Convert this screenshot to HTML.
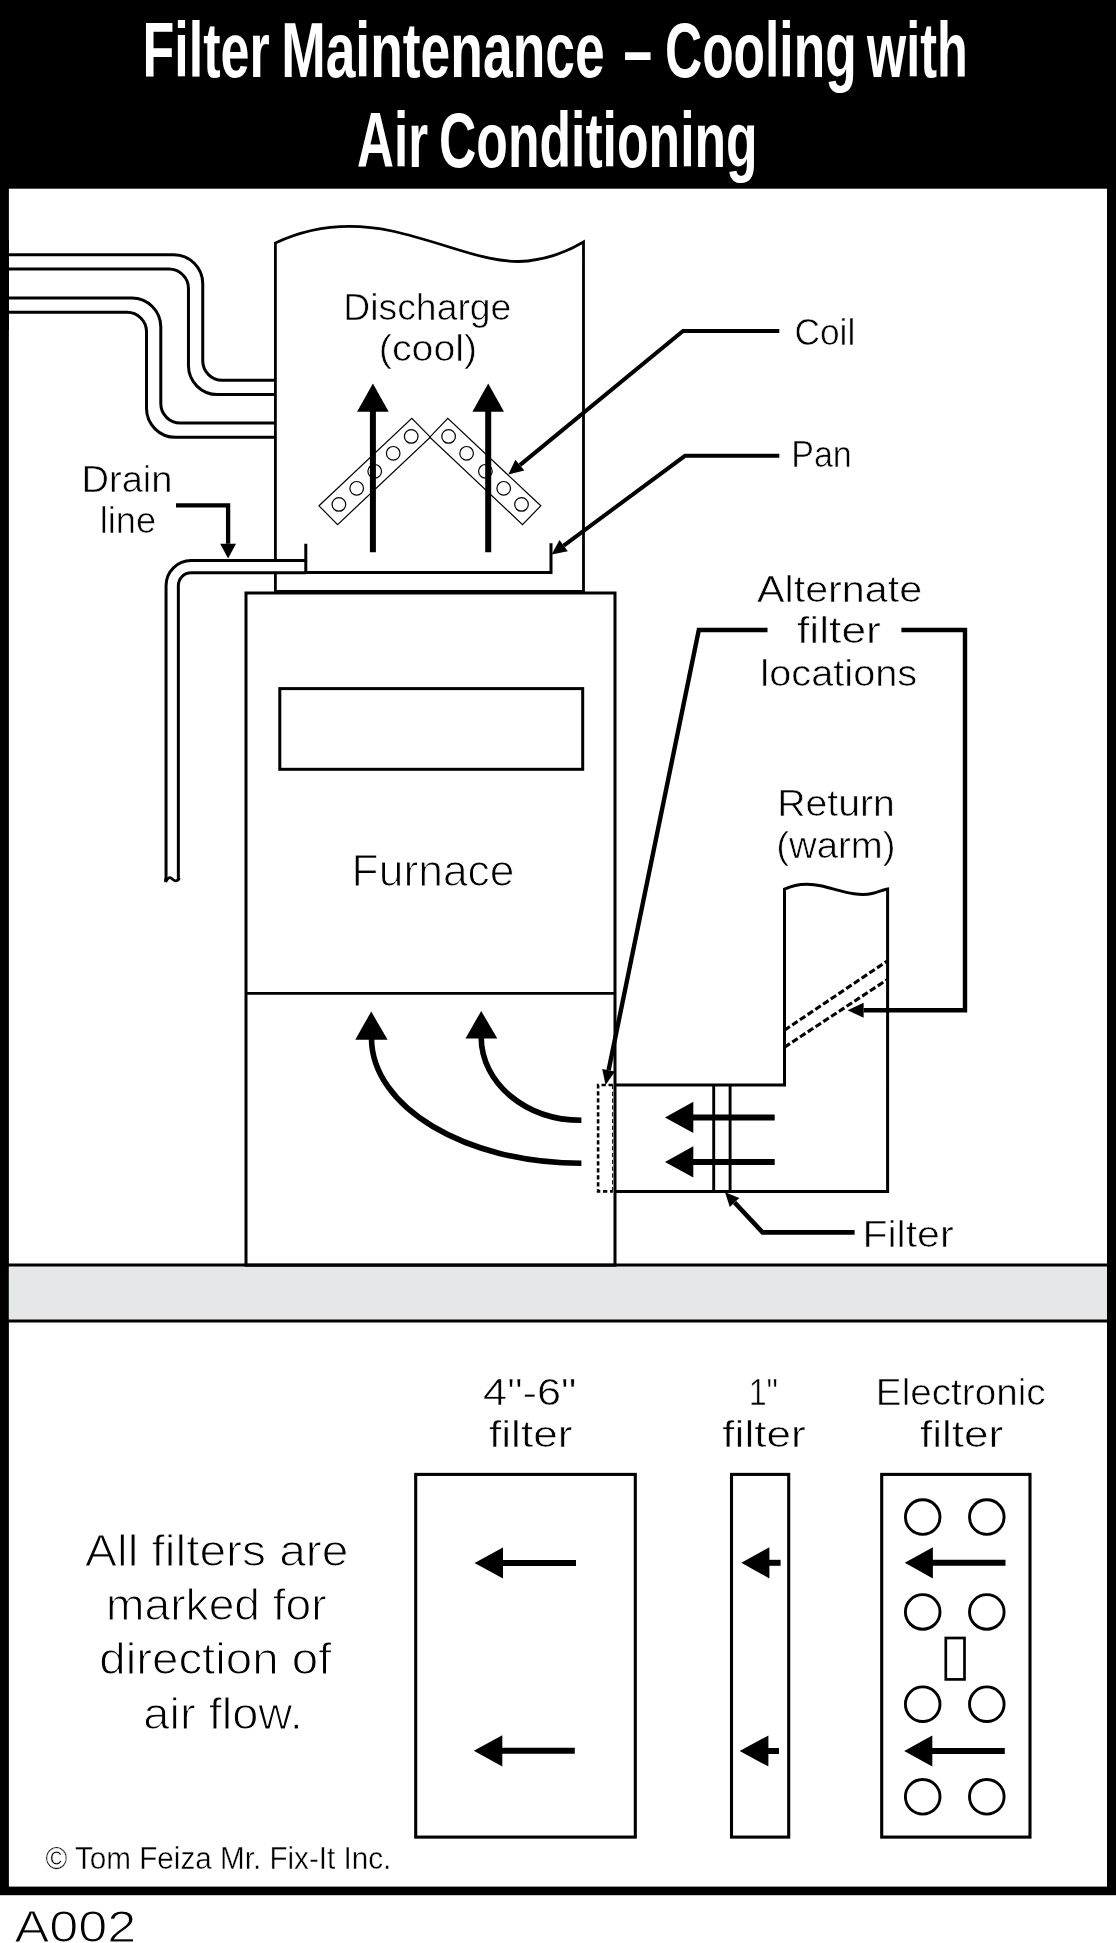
<!DOCTYPE html>
<html><head><meta charset="utf-8"><title>Filter Maintenance - Cooling with Air Conditioning</title>
<style>
html,body{margin:0;padding:0;background:#fff;}
svg{display:block;will-change:transform;font-family:"Liberation Sans",sans-serif;}
</style></head>
<body>
<svg width="1116" height="1943" viewBox="0 0 1116 1943">
<rect x="0" y="0" width="1116" height="1943" fill="#fff"/>
<rect x="0" y="0" width="1116" height="1895.2" fill="#000"/>
<rect x="8.9" y="188.7" width="1098.1" height="1697.9" fill="#fff"/>
<text x="142.49" y="76.8" font-size="77" textLength="127.16" lengthAdjust="spacingAndGlyphs" font-weight="bold" fill="#fff"  >Filter</text>
<text x="281.14" y="76.8" font-size="77" textLength="323.59" lengthAdjust="spacingAndGlyphs" font-weight="bold" fill="#fff"  >Maintenance</text>
<text x="623.41" y="76.8" font-size="77" textLength="28.57" lengthAdjust="spacingAndGlyphs" font-weight="bold" fill="#fff"  >–</text>
<text x="664.94" y="76.8" font-size="77" textLength="191.66" lengthAdjust="spacingAndGlyphs" font-weight="bold" fill="#fff"  >Cooling</text>
<text x="867.08" y="76.8" font-size="77" textLength="100.72" lengthAdjust="spacingAndGlyphs" font-weight="bold" fill="#fff"  >with</text>
<text x="357.04" y="166.8" font-size="77" textLength="71.07" lengthAdjust="spacingAndGlyphs" font-weight="bold" fill="#fff"  >Air</text>
<text x="438.97" y="166.8" font-size="77" textLength="318.68" lengthAdjust="spacingAndGlyphs" font-weight="bold" fill="#fff"  >Conditioning</text>
<rect x="8.9" y="1265" width="1098.1" height="55.9" fill="#e6e7e8"/>
<path d="M8,1265H1108M8,1320.9H1108" stroke="#000" stroke-width="3" fill="none"/>
<path d="M5,254.79999999999998 H173.75 A29,29 0 0 1 202.75,283.79999999999995 V360.8 A19.5,19.5 0 0 0 222.25,380.3 H276 M5,269.09999999999997 H168.95 A19.5,19.5 0 0 1 188.45,288.59999999999997 V365.59999999999997 A29,29 0 0 0 217.45,394.59999999999997 H276" stroke="#000" stroke-width="3" fill="none"/>
<path d="M5,298.05 H131.8 A29,29 0 0 1 160.8,327.05 V403.55 A19.5,19.5 0 0 0 180.3,423.05 H276 M5,312.34999999999997 H127.0 A19.5,19.5 0 0 1 146.5,331.84999999999997 V408.34999999999997 A29,29 0 0 0 175.5,437.34999999999997 H276" stroke="#000" stroke-width="3" fill="none"/>
<rect x="0" y="240" width="9" height="90" fill="#000"/>
<path d="M275.4,591.4 V243 C305,229 345,221 392,231 C450,244 488,265 528,261 C550,258.5 570,250 583.5,242 V591.4 Z" stroke="#000" stroke-width="2.8" fill="none"/>
<path d="M306,566.65 H191.2 A19,19 0 0 0 172.2,585.65 V879.5" stroke="#000" stroke-width="15.3" fill="none"/>
<path d="M306,566.65 H191.2 A19,19 0 0 0 172.2,585.65 V879.5 V884" stroke="#fff" stroke-width="9.3" fill="none"/>
<path d="M165.6,882 C166.6,880.3 168,877.6 169.9,877.7 C172,877.8 173.5,880.9 175.8,880.8 C177.6,880.7 178.6,879.8 179.2,878.2" stroke="#000" stroke-width="2.8" fill="none"/>
<path d="M164.2,878.5 V882.8 L167.4,878.5 Z M177.3,878 H180.25 V879 L178.6,880.6 Z" fill="#000"/>
<path d="M305.8,543.8 V572.5 H551 V543.2" stroke="#000" stroke-width="3" fill="none"/>
<rect x="246" y="593" width="369" height="672.2" stroke="#000" stroke-width="3" fill="none"/>
<path d="M246,993.4H615" stroke="#000" stroke-width="2.6"/>
<rect x="279.8" y="688.6" width="302.9" height="80.7" stroke="#000" stroke-width="3" fill="none"/>
<g stroke="#000" stroke-width="1.2" fill="none">
<path d="M319,505.8 L411.8,418.4 L430.3,437.2 L337.6,524.6 Z"/>
<path d="M540.8,505.8 L447.8,418.4 L429.8,437.2 L522.5,524.6 Z"/>
<circle cx="338.9" cy="504.4" r="6.8"/>
<circle cx="356.7" cy="488.3" r="6.8"/>
<circle cx="374.7" cy="471.3" r="6.8"/>
<circle cx="393.2" cy="453.3" r="6.8"/>
<circle cx="411.2" cy="436.4" r="6.8"/>
<circle cx="448.6" cy="436.4" r="6.8"/>
<circle cx="466.6" cy="453.3" r="6.8"/>
<circle cx="485.4" cy="471.3" r="6.8"/>
<circle cx="503.7" cy="488.3" r="6.8"/>
<circle cx="521.5" cy="504.4" r="6.8"/>
</g>
<path d="M372.9,383.4 L388.7,411.7 H357.09999999999997 Z" fill="#000"/>
<path d="M372.9,410.7 V552.3" stroke="#000" stroke-width="6" fill="none"/>
<path d="M488.2,383.4 L504.0,411.7 H472.4 Z" fill="#000"/>
<path d="M488.2,410.7 V552.3" stroke="#000" stroke-width="6" fill="none"/>
<path d="M508.3,474.6 L515.4,459.7 L524.3,470.5 Z" fill="#000"/>
<path d="M779.3,331.0 L683.0,331.0 L519.9,465.1" stroke="#000" stroke-width="4" fill="none" stroke-linejoin="miter"/>
<path d="M551.6,554.5 L559.5,540.0 L567.8,551.2 Z" fill="#000"/>
<path d="M779.3,455.8 L685.0,455.8 L563.7,545.6" stroke="#000" stroke-width="4" fill="none" stroke-linejoin="miter"/>
<path d="M228.1,558.5 L220.2,543.8 L236.0,543.8 Z" fill="#000"/>
<path d="M176.0,505.3 L228.1,505.3 L228.1,543.8" stroke="#000" stroke-width="4.3" fill="none" stroke-linejoin="miter"/>
<path d="M605.6,1085.0 L602.2,1069.0 L615.0,1071.6 Z" fill="#000"/>
<path d="M767.5,630.0 L698.8,630.0 L608.6,1070.3" stroke="#000" stroke-width="4.4" fill="none" stroke-linejoin="miter"/>
<path d="M847.6,1010.2 L863.6,1002.7 L863.6,1017.7 Z" fill="#000"/>
<path d="M901.4,630.0 L965.0,630.0 L965.0,1010.2 L863.6,1010.2" stroke="#000" stroke-width="4.4" fill="none" stroke-linejoin="miter"/>
<path d="M725.0,1192.3 L739.3,1198.1 L729.8,1207.0 Z" fill="#000"/>
<path d="M854.6,1232.4 L762.6,1232.4 L734.6,1202.5" stroke="#000" stroke-width="4.6" fill="none" stroke-linejoin="miter"/>
<path d="M615,1085 H784.5 V889.1 C795,884 807,882.5 822,886 C842,891 858,897 872,893.5 C878,892 883,890 887.6,889 V1191.4 H615" stroke="#000" stroke-width="3" fill="none"/>
<path d="M713.7,1085V1191.4M730.1,1085V1191.4" stroke="#000" stroke-width="2.9" fill="none"/>
<path d="M612.8,1085 H598.1 V1191.4 H612.8" stroke="#000" stroke-width="2.6" fill="none" stroke-dasharray="4.3 2.7"/>
<path d="M612.6,1085 V1191.4" stroke="#000" stroke-width="1" fill="none" stroke-dasharray="4.2 2.6"/>
<path d="M784.5,1030.2 L887.6,960.8 M784.5,1047.2 L887.6,979.4" stroke="#000" stroke-width="3.1" fill="none" stroke-dasharray="6.5 2.8"/>
<path d="M665,1117.4 L693.3,1101.8000000000002 V1133.0 Z" fill="#000"/>
<path d="M692.3,1117.4 H774.7" stroke="#000" stroke-width="6" fill="none"/>
<path d="M665,1161.9 L693.3,1146.3000000000002 V1177.5 Z" fill="#000"/>
<path d="M692.3,1161.9 H774.7" stroke="#000" stroke-width="6" fill="none"/>
<path d="M581.4,1163.3 C465.3,1163.3 371.5,1107 371.5,1038" stroke="#000" stroke-width="5.6" fill="none"/>
<path d="M371.2,1011.5 L387.6,1039.7 H355.3 Z" fill="#000"/>
<path d="M581.4,1120.3 C525.8,1120.3 481.2,1083.3 481.2,1037" stroke="#000" stroke-width="5.6" fill="none"/>
<path d="M481.2,1010.9 L497.3,1038.6 H465.5 Z" fill="#000"/>
<g stroke="#000" stroke-width="3.1" fill="none">
<rect x="415.7" y="1474.4" width="219.6" height="362.7"/>
<rect x="731.5" y="1474.4" width="57.2" height="362.7"/>
<rect x="881.7" y="1474.4" width="148.3" height="362.7"/>
<circle cx="922.7" cy="1517.1" r="17.3" stroke-width="2.9"/>
<circle cx="986.8" cy="1517.1" r="17.3" stroke-width="2.9"/>
<circle cx="922.7" cy="1611.9" r="17.3" stroke-width="2.9"/>
<circle cx="986.8" cy="1611.9" r="17.3" stroke-width="2.9"/>
<circle cx="922.7" cy="1704.2" r="17.3" stroke-width="2.9"/>
<circle cx="986.8" cy="1704.2" r="17.3" stroke-width="2.9"/>
<circle cx="922.7" cy="1796.8" r="17.3" stroke-width="2.9"/>
<circle cx="986.8" cy="1796.8" r="17.3" stroke-width="2.9"/>
<rect x="945.8" y="1638" width="18.7" height="41.4" stroke-width="2.7"/>
</g>
<path d="M474.5,1563 L503,1547.4 V1578.6 Z" fill="#000"/>
<path d="M502,1563 H576" stroke="#000" stroke-width="6" fill="none"/>
<path d="M473.8,1750.8 L502.3,1735.2 V1766.3999999999999 Z" fill="#000"/>
<path d="M501.3,1750.8 H574.8" stroke="#000" stroke-width="6" fill="none"/>
<path d="M741.3,1562.8 L769.4,1547.2 V1578.3999999999999 Z" fill="#000"/>
<path d="M768.4,1562.8 H780.6" stroke="#000" stroke-width="6" fill="none"/>
<path d="M739.7,1751 L768.4,1735.4 V1766.6 Z" fill="#000"/>
<path d="M767.4,1751 H779" stroke="#000" stroke-width="6" fill="none"/>
<path d="M904.8,1562.8 L932.9,1547.2 V1578.3999999999999 Z" fill="#000"/>
<path d="M931.9,1562.8 H1005.5" stroke="#000" stroke-width="6" fill="none"/>
<path d="M904.2,1751 L932.3,1735.4 V1766.6 Z" fill="#000"/>
<path d="M931.3,1751 H1004.8" stroke="#000" stroke-width="6" fill="none"/>
<text x="343.28" y="319.6" font-size="36" textLength="168.10" lengthAdjust="spacingAndGlyphs" font-weight="normal" fill="#000" stroke="#fff" stroke-width="0.6" >Discharge</text>
<text x="378.79" y="360.6" font-size="36" textLength="98.42" lengthAdjust="spacingAndGlyphs" font-weight="normal" fill="#000" stroke="#fff" stroke-width="0.6" >(cool)</text>
<text x="794.39" y="344.6" font-size="36" textLength="60.89" lengthAdjust="spacingAndGlyphs" font-weight="normal" fill="#000" stroke="#fff" stroke-width="0.6" >Coil</text>
<text x="791.23" y="467.0" font-size="36" textLength="60.58" lengthAdjust="spacingAndGlyphs" font-weight="normal" fill="#000" stroke="#fff" stroke-width="0.6" >Pan</text>
<text x="81.49" y="491.5" font-size="36" textLength="90.95" lengthAdjust="spacingAndGlyphs" font-weight="normal" fill="#000" stroke="#fff" stroke-width="0.6" >Drain</text>
<text x="99.82" y="533.2" font-size="36" textLength="56.22" lengthAdjust="spacingAndGlyphs" font-weight="normal" fill="#000" stroke="#fff" stroke-width="0.6" >line</text>
<text x="757.06" y="602.2" font-size="36" textLength="165.09" lengthAdjust="spacingAndGlyphs" font-weight="normal" fill="#000" stroke="#fff" stroke-width="0.6" >Alternate</text>
<text x="796.97" y="643.3" font-size="36" textLength="83.90" lengthAdjust="spacingAndGlyphs" font-weight="normal" fill="#000" stroke="#fff" stroke-width="0.6" >filter</text>
<text x="760.37" y="686.4" font-size="36" textLength="156.89" lengthAdjust="spacingAndGlyphs" font-weight="normal" fill="#000" stroke="#fff" stroke-width="0.6" >locations</text>
<text x="777.28" y="816.2" font-size="36" textLength="117.48" lengthAdjust="spacingAndGlyphs" font-weight="normal" fill="#000" stroke="#fff" stroke-width="0.6" >Return</text>
<text x="776.25" y="858.0" font-size="36" textLength="119.31" lengthAdjust="spacingAndGlyphs" font-weight="normal" fill="#000" stroke="#fff" stroke-width="0.6" >(warm)</text>
<text x="862.42" y="1246.5" font-size="36" textLength="91.17" lengthAdjust="spacingAndGlyphs" font-weight="normal" fill="#000" stroke="#fff" stroke-width="0.6" >Filter</text>
<text x="351.61" y="885.5" font-size="44" textLength="162.88" lengthAdjust="spacingAndGlyphs" font-weight="normal" fill="#000" stroke="#fff" stroke-width="1.1" >Furnace</text>
<text x="483.14" y="1405.4" font-size="36" textLength="93.37" lengthAdjust="spacingAndGlyphs" font-weight="normal" fill="#000" stroke="#fff" stroke-width="0.6" >4"-6"</text>
<text x="488.97" y="1446.6" font-size="36" textLength="83.48" lengthAdjust="spacingAndGlyphs" font-weight="normal" fill="#000" stroke="#fff" stroke-width="0.6" >filter</text>
<text x="748.64" y="1405.4" font-size="36" textLength="29.39" lengthAdjust="spacingAndGlyphs" font-weight="normal" fill="#000" stroke="#fff" stroke-width="0.6" >1"</text>
<text x="722.38" y="1447.0" font-size="36" textLength="83.25" lengthAdjust="spacingAndGlyphs" font-weight="normal" fill="#000" stroke="#fff" stroke-width="0.6" >filter</text>
<text x="875.87" y="1405.4" font-size="36" textLength="169.69" lengthAdjust="spacingAndGlyphs" font-weight="normal" fill="#000" stroke="#fff" stroke-width="0.6" >Electronic</text>
<text x="919.97" y="1447.0" font-size="36" textLength="83.28" lengthAdjust="spacingAndGlyphs" font-weight="normal" fill="#000" stroke="#fff" stroke-width="0.6" >filter</text>
<text x="85.07" y="1566.0" font-size="44" textLength="263.39" lengthAdjust="spacingAndGlyphs" font-weight="normal" fill="#000" stroke="#fff" stroke-width="1.1" >All filters are</text>
<text x="106.12" y="1620.0" font-size="44" textLength="220.52" lengthAdjust="spacingAndGlyphs" font-weight="normal" fill="#000" stroke="#fff" stroke-width="1.1" >marked for</text>
<text x="99.26" y="1673.8" font-size="44" textLength="232.15" lengthAdjust="spacingAndGlyphs" font-weight="normal" fill="#000" stroke="#fff" stroke-width="1.1" >direction of</text>
<text x="143.38" y="1729.0" font-size="44" textLength="159.34" lengthAdjust="spacingAndGlyphs" font-weight="normal" fill="#000" stroke="#fff" stroke-width="1.1" >air flow.</text>
<text x="45.39" y="1868.7" font-size="31" textLength="345.94" lengthAdjust="spacingAndGlyphs" font-weight="normal" fill="#000" stroke="#fff" stroke-width="0.4" >© Tom Feiza Mr. Fix-It Inc.</text>
<text x="14.43" y="1942.0" font-size="45" textLength="121.80" lengthAdjust="spacingAndGlyphs" font-weight="normal" fill="#000" stroke="#fff" stroke-width="1.1" >A002</text>
</svg>
</body></html>
